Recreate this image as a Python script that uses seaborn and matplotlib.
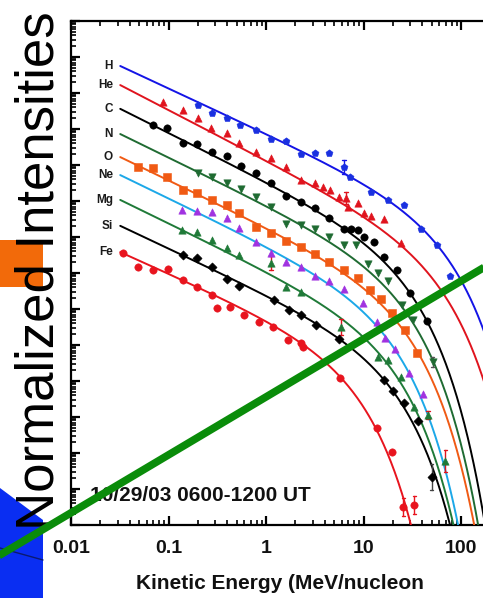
import numpy as np
import pandas as pd
import matplotlib
matplotlib.use("Agg")
import matplotlib.pyplot as plt
import seaborn as sns
from matplotlib.patches import Polygon, Rectangle
from matplotlib.lines import Line2D
from matplotlib.ticker import FixedLocator, FixedFormatter, LogLocator, NullFormatter

# ---------------- data ----------------
species = ["H", "He", "C", "N", "O", "Ne", "Mg", "Si", "Fe"]
line_colors = ["#1414E6", "#E0141E", "#000000", "#1F6B32", "#F05A14", "#1CA8E8", "#1F7A38", "#000000", "#E8141E"]
marker_colors = ["#1A30E0", "#E0141E", "#000000", "#1F6B32", "#F05A14", "#A032E0", "#1F7A38", "#000000", "#E8141E"]
marker_shapes = ["p", "^", "o", "v", "s", "^", "^", "D", "o"]

# Ellison-Ramaty fit parameters: J = J0 (E/E_ref)^-gamma exp(-(E-E_ref)/E0)
E_ref = 0.032
fit_logJ0 = [12.75, 12.22, 11.56, 10.86, 10.22, 9.72, 9.03, 8.31, 7.58]
fit_gamma = [1.258, 1.40, 1.351, 1.317, 1.302, 1.306, 1.313, 1.27, 1.206]
fit_E0 = [27.9, 24.8, 11.8, 10.8, 10.8, 7.8, 8.0, 8.35, 3.34]

H_logE = [-0.70, -0.55, -0.40, -0.27, -0.10, 0.05, 0.21, 0.36, 0.50, 0.65, 0.80, 0.86, 1.08, 1.25, 1.42, 1.59, 1.75, 1.89]
H_logJ = [11.67, 11.44, 11.31, 11.11, 10.97, 10.72, 10.67, 10.31, 10.33, 10.33, 9.94, 9.67, 9.25, 9.03, 8.89, 8.22, 7.78, 6.92]
He_logE = [-1.06, -0.85, -0.70, -0.56, -0.40, -0.28, -0.10, 0.05, 0.21, 0.36, 0.50, 0.58, 0.66, 0.75, 0.82, 0.84, 0.94, 1.00, 1.08, 1.21, 1.38]
He_logJ = [11.75, 11.53, 11.31, 11.03, 10.89, 10.61, 10.36, 10.19, 9.94, 9.58, 9.50, 9.39, 9.31, 9.11, 9.08, 8.83, 8.94, 8.67, 8.58, 8.50, 7.83]
C_logE = [-1.16, -1.02, -0.85, -0.71, -0.55, -0.40, -0.26, -0.10, 0.05, 0.21, 0.36, 0.50, 0.65, 0.80, 0.87, 0.94, 1.01, 1.11, 1.21, 1.34, 1.48, 1.65]
C_logJ = [11.11, 11.03, 10.61, 10.58, 10.36, 10.25, 9.97, 9.78, 9.50, 9.14, 8.97, 8.81, 8.53, 8.22, 8.22, 8.19, 8.00, 7.86, 7.44, 7.08, 6.44, 5.67]
N_logE = [-0.70, -0.55, -0.40, -0.26, -0.10, 0.05, 0.21, 0.36, 0.50, 0.65, 0.80, 0.92, 1.05, 1.15, 1.25, 1.39, 1.51, 1.71]
N_logJ = [9.78, 9.67, 9.50, 9.33, 9.11, 8.83, 8.36, 8.33, 8.22, 8.00, 7.78, 7.78, 7.25, 7.00, 6.78, 6.11, 5.69, 4.53]
O_logE = [-1.31, -1.16, -1.02, -0.85, -0.71, -0.55, -0.40, -0.28, -0.10, 0.05, 0.21, 0.36, 0.50, 0.65, 0.80, 0.94, 1.07, 1.18, 1.29, 1.43, 1.55]
O_logJ = [9.94, 9.92, 9.67, 9.31, 9.22, 9.03, 8.89, 8.67, 8.28, 8.11, 7.89, 7.72, 7.53, 7.31, 7.08, 6.86, 6.53, 6.28, 5.89, 5.42, 4.78]
Ne_logE = [-0.86, -0.71, -0.55, -0.40, -0.28, -0.10, 0.05, 0.21, 0.36, 0.50, 0.65, 0.80, 0.99, 1.14, 1.22, 1.32, 1.47, 1.61]
Ne_logJ = [8.75, 8.72, 8.69, 8.53, 8.25, 7.86, 7.56, 7.31, 7.17, 6.92, 6.78, 6.56, 6.17, 5.64, 5.19, 4.89, 4.22, 3.64]
Mg_logE = [-0.86, -0.71, -0.55, -0.40, -0.28, 0.05, 0.21, 0.36, 0.77, 1.15, 1.25, 1.38, 1.52, 1.66, 1.84]
Mg_logJ = [8.19, 8.14, 7.92, 7.69, 7.50, 7.28, 6.61, 6.47, 5.50, 4.67, 4.58, 4.11, 3.28, 3.06, 1.78]
Si_logE = [-0.85, -0.71, -0.55, -0.40, -0.28, 0.08, 0.24, 0.36, 0.51, 0.75, 1.21, 1.30, 1.42, 1.56, 1.70]
Si_logJ = [7.50, 7.42, 7.17, 6.83, 6.64, 6.25, 5.97, 5.83, 5.56, 5.17, 4.03, 3.72, 3.39, 2.89, 1.33]
Fe_logE = [-1.47, -1.31, -1.16, -1.01, -0.85, -0.71, -0.55, -0.50, -0.37, -0.23, -0.07, 0.07, 0.23, 0.36, 0.38, 0.76, 1.14, 1.29, 1.41, 1.52]
Fe_logJ = [7.56, 7.17, 7.08, 7.11, 6.81, 6.61, 6.39, 6.03, 6.06, 5.83, 5.64, 5.50, 5.14, 5.06, 4.94, 4.08, 2.69, 2.03, 0.50, 0.56]

# error bars (log10 E, log10 J, half-length in decades, colour)
err_logE = [0.80, 0.82, 1.41, 1.52, 1.70, 1.84, 1.66, 0.77, 0.05, 1.71]
err_logJ = [9.94, 9.08, 0.50, 0.56, 1.33, 1.78, 3.06, 5.50, 7.28, 4.53]
err_dlog = [0.20, 0.17, 0.25, 0.25, 0.37, 0.30, 0.12, 0.22, 0.20, 0.15]
err_color = ["#1414E6", "#E0141E", "#E8141E", "#E8141E", "#444444", "#E0141E", "#E0141E", "#E0141E", "#E0141E", "#555555"]

x_ticks = [0.01, 0.1, 1, 10, 100]
x_ticklabels = ["0.01", "0.1", "1", "10", "100"]
x_label = "Kinetic Energy (MeV/nucleon"
y_label = "Normalized Intensities"
event_label = "10/29/03 0600-1200 UT"

points = {
    "H": (H_logE, H_logJ), "He": (He_logE, He_logJ), "C": (C_logE, C_logJ),
    "N": (N_logE, N_logJ), "O": (O_logE, O_logJ), "Ne": (Ne_logE, Ne_logJ),
    "Mg": (Mg_logE, Mg_logJ), "Si": (Si_logE, Si_logJ), "Fe": (Fe_logE, Fe_logJ),
}

# ---------------- figure ----------------
sns.set_theme(style="white")
plt.rcParams["font.family"] = ["Liberation Sans", "DejaVu Sans"]

W, H = 483, 598
fig = plt.figure(figsize=(W / 100, H / 100), dpi=100)
fig.patch.set_facecolor("white")

def fx(px):
    return px / W

def fy(py):
    return 1 - py / H

ax_left, ax_right, ax_top, ax_bot = 71, 558.5, 21, 525
ax = fig.add_axes([fx(ax_left), fy(ax_bot), (ax_right - ax_left) / W, (ax_bot - ax_top) / H])
ax.set_facecolor("white")
ax.set_xscale("log")
ax.set_yscale("log")
ax.set_xlim(0.01, 1000)
ax.set_ylim(1, 1e14)

E_grid = np.logspace(np.log10(E_ref), 3, 600)
for i, sp in enumerate(species):
    J = 10 ** fit_logJ0[i] * (E_grid / E_ref) ** (-fit_gamma[i]) * np.exp(-(E_grid - E_ref) / fit_E0[i])
    dfl = pd.DataFrame({"E": E_grid, "J": J})
    dfl = dfl[dfl["J"] > 0.3]
    sns.lineplot(data=dfl, x="E", y="J", ax=ax, color=line_colors[i], lw=1.4, zorder=3, legend=False)

for i, sp in enumerate(species):
    le, lj = points[sp]
    dfp = pd.DataFrame({"E": 10 ** np.array(le), "J": 10 ** np.array(lj)})
    size = 28 if marker_shapes[i] != "D" else 22
    sns.scatterplot(data=dfp, x="E", y="J", ax=ax, marker=marker_shapes[i], color=marker_colors[i],
                    s=size, edgecolor=marker_colors[i], linewidth=0.4, zorder=4, legend=False)

for i in range(len(err_logE)):
    e = 10 ** err_logE[i]
    ax.plot([e, e], [10 ** (err_logJ[i] - err_dlog[i]), 10 ** (err_logJ[i] + err_dlog[i])],
            color=err_color[i], lw=1.0, zorder=3.5)
    for yy in (err_logJ[i] - err_dlog[i], err_logJ[i] + err_dlog[i]):
        ax.plot([e / 1.04, e * 1.04], [10 ** yy, 10 ** yy], color=err_color[i], lw=1.0, zorder=3.5)

# species labels
for i, sp in enumerate(species):
    ax.text(0.027, 10 ** fit_logJ0[i], sp, ha="right", va="center", fontsize=8.5,
            fontweight="bold", color="#1a1a1a", zorder=5)

ax.text(0.0157, 10 ** 0.83, event_label, ha="left", va="center", fontsize=15,
        fontweight="bold", color="#111111", zorder=5)

for s in ax.spines.values():
    s.set_linewidth(1.6)
    s.set_color("black")
ax.xaxis.set_major_locator(FixedLocator(x_ticks))
ax.xaxis.set_major_formatter(FixedFormatter(x_ticklabels))
ax.xaxis.set_minor_locator(LogLocator(base=10, subs=np.arange(2, 10), numticks=100))
ax.xaxis.set_minor_formatter(NullFormatter())
ax.yaxis.set_major_locator(LogLocator(base=10, numticks=100))
ax.yaxis.set_minor_locator(LogLocator(base=10, subs=np.arange(2, 10), numticks=100))
ax.yaxis.set_minor_formatter(NullFormatter())
ax.tick_params(axis="both", which="both", direction="in", top=True, right=True,
               bottom=True, left=True, color="black")
ax.tick_params(axis="both", which="major", length=6.5, width=1.6)
ax.tick_params(axis="both", which="minor", length=3.5, width=1.2)
ax.tick_params(axis="y", labelleft=False)
ax.tick_params(axis="x", labelsize=14, pad=11, labelcolor="#111111")
for lab in ax.get_xticklabels():
    lab.set_fontweight("bold")
ax.set_xlabel(x_label, fontsize=15, fontweight="bold", labelpad=14, color="#111111")
ax.xaxis.set_label_coords((280 - ax_left) / (ax_right - ax_left), -0.098)
ax.set_ylabel("")

# slide decorations
blue = Polygon([(fx(0), fy(488)), (fx(43), fy(520)), (fx(43), fy(600)), (fx(0), fy(600))],
               closed=True, transform=fig.transFigure, facecolor="#0A2EF2", edgecolor="none", zorder=5)
fig.add_artist(blue)
fig.add_artist(Line2D([fx(0), fx(43)], [fy(548), fy(560)], transform=fig.transFigure,
                      color="#0A1A70", lw=1.0, zorder=6))
fig.add_artist(Rectangle((fx(0), fy(287)), 43 / W, 47 / H, transform=fig.transFigure,
                         facecolor="#F26A0A", edgecolor="none", zorder=5))
fig.text(fx(53), fy(530), y_label, rotation=90, rotation_mode="anchor", ha="left", va="baseline",
         fontsize=38, color="black", zorder=20)
fig.add_artist(Line2D([fx(-20), fx(503)], [fy(555 + 20 * 0.594), fy(268 - 20 * 0.594)],
                      transform=fig.transFigure, color="#0A8C0A", lw=5.5, solid_capstyle="butt", zorder=100))

fig.savefig("out.png", dpi=100, facecolor="white")
